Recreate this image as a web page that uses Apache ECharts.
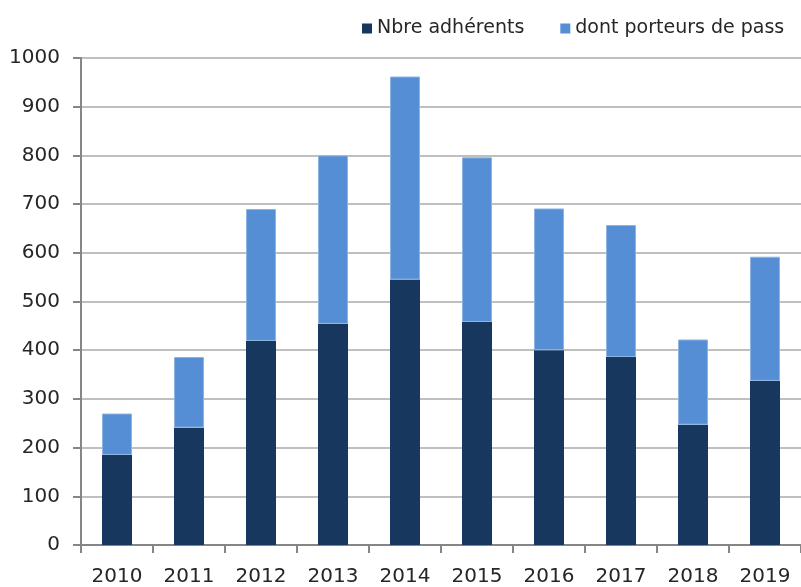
<!DOCTYPE html>
<html>
<head>
<meta charset="utf-8">
<script src="https://cdn.jsdelivr.net/npm/echarts@6/dist/echarts.min.js"></script>
<style>
  html, body { margin: 0; padding: 0; background: #fff; }
  #chart { width: 801px; height: 587px; }
</style>
</head>
<body>
<div id="chart"></div>
<script>
// années
const years = ['2010', '2011', '2012', '2013', '2014', '2015', '2016', '2017', '2018', '2019']
// partie foncée (bas de barre)
const adherents = [185, 241, 419, 454, 545, 458, 400, 386, 247, 337]
// partie claire empilée au-dessus
const porteursPass = [85, 145, 271, 346, 417, 338, 291, 271, 175, 255]

const chart = echarts.init(document.getElementById('chart'))
const font = '"DejaVu Sans", sans-serif'

chart.setOption({
  animation: false,
  textStyle: { fontFamily: font },
  legend: {
    left: 357,
    top: 14,
    itemWidth: 10,
    itemHeight: 10,
    itemGap: 36,
    icon: 'rect',
    itemStyle: { borderWidth: 0 },
    textStyle: { fontSize: 19, color: '#262626', fontFamily: font },
    data: ['Nbre adhérents', 'dont porteurs de pass']
  },
  grid: {
    left: 81,
    right: -9,
    top: 58,
    bottom: 40
  },
  xAxis: {
    type: 'category',
    data: years,
    axisLine: { lineStyle: { color: '#868686', width: 2 } },
    axisTick: { show: true, length: 8, lineStyle: { color: '#868686', width: 2 } },
    axisLabel: { fontSize: 20, color: '#262626', margin: 22, fontFamily: font }
  },
  yAxis: {
    type: 'value',
    min: 0,
    max: 1000,
    interval: 100,
    axisLine: { show: true, lineStyle: { color: '#868686', width: 2 } },
    axisTick: { show: true, length: 8, lineStyle: { color: '#868686', width: 2 } },
    axisLabel: {
      fontSize: 20,
      color: '#262626',
      margin: 21,
      fontFamily: font,
      formatter: function(v) { return String(v) }
    },
    splitLine: { lineStyle: { color: '#bfbfbf', width: 2 } }
  },
  series: [
    {
      name: 'Nbre adhérents',
      type: 'bar',
      stack: 'total',
      barWidth: 30,
      itemStyle: { color: '#17375E' },
      data: adherents
    },
    {
      name: 'dont porteurs de pass',
      type: 'bar',
      stack: 'total',
      barWidth: 30,
      itemStyle: { color: '#558ED5', borderColor: '#8db4e2', borderWidth: 1 },
      data: porteursPass
    }
  ]
})
</script>
</body>
</html>
